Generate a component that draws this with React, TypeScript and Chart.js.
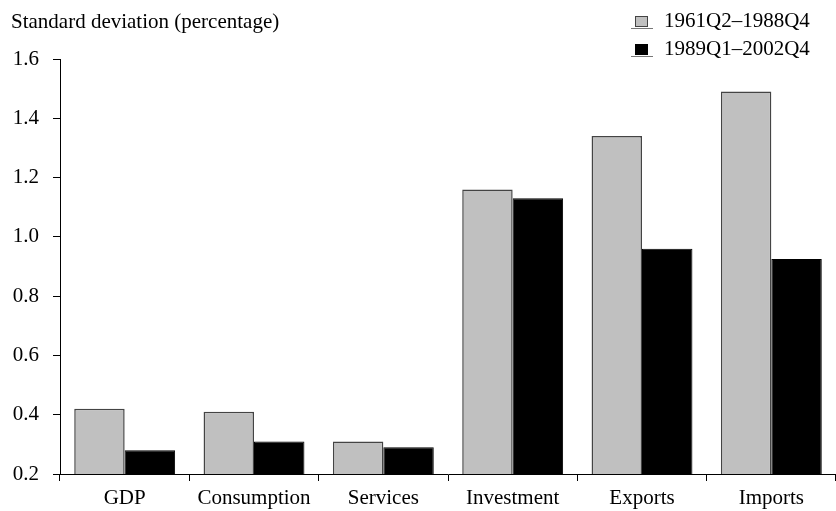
import React, { useEffect, useRef } from "react";
import { Chart, registerables } from "chart.js";

Chart.register(...registerables);

const categories = ["GDP", "Consumption", "Services", "Investment", "Exports", "Imports"];
const seriesLabels = ["1961Q2–1988Q4", "1989Q1–2002Q4"];
const early = [0.42, 0.41, 0.31, 1.16, 1.34, 1.49];
const late = [0.28, 0.31, 0.29, 1.13, 0.96, 0.925];
const axisTitle = "Standard deviation (percentage)";

const FONT = "'Liberation Serif', 'Times New Roman', serif";
const GRAY = "#c0c0c0";

const overlayPlugin = {
  id: "overlay",
  afterDraw(chart: any) {
    const ctx = chart.ctx as CanvasRenderingContext2D;
    ctx.save();
    ctx.fillStyle = "#000";
    ctx.font = `21px ${FONT}`;
    ctx.textBaseline = "middle";
    ctx.textAlign = "left";
    ctx.fillText(axisTitle, 11, 22);
    const fills = [GRAY, "#000"];
    const strokes = ["#444", "#000"];
    seriesLabels.forEach((lab, i) => {
      const y = 21 + i * 28;
      ctx.fillStyle = fills[i];
      ctx.fillRect(635, y - 5, 13, 11);
      ctx.strokeStyle = strokes[i];
      ctx.lineWidth = 1;
      ctx.strokeRect(635.5, y - 4.5, 12, 10);
      ctx.strokeStyle = "#777";
      ctx.beginPath();
      ctx.moveTo(631, y + 7.5);
      ctx.lineTo(653, y + 7.5);
      ctx.stroke();
      ctx.fillStyle = "#000";
      ctx.fillText(lab, 664, y);
    });
    ctx.restore();
  },
};

export default function App() {
  const ref = useRef<HTMLCanvasElement>(null);
  useEffect(() => {
    document.body.style.margin = "0";
    const chart = new Chart(ref.current!, {
      type: "bar",
      data: {
        labels: categories,
        datasets: [
          {
            label: seriesLabels[0],
            data: early,
            backgroundColor: GRAY,
            borderColor: "#444",
            borderWidth: 1.5,
          },
          {
            label: seriesLabels[1],
            data: late,
            backgroundColor: "#000",
            borderColor: "#000",
            borderWidth: 1,
          },
        ],
      },
      options: {
        animation: false,
        responsive: false,
        layout: { padding: { top: 59, right: 0, left: 0, bottom: 0 } },
        plugins: { legend: { display: false }, title: { display: false }, tooltip: { enabled: false } },
        datasets: { bar: { categoryPercentage: 0.78, barPercentage: 1 } },
        scales: {
          x: {
            grid: { display: true, drawOnChartArea: false, drawTicks: true, tickLength: 7, color: "#000", offset: true },
            border: { display: true, color: "#000", width: 1 },
            ticks: { color: "#000", font: { family: FONT, size: 21 }, padding: 5, maxRotation: 0 },
            afterFit: (s: any) => { s.height = 37; },
          },
          y: {
            min: 0.2,
            max: 1.6,
            grid: { display: true, drawOnChartArea: false, drawTicks: true, tickLength: 7, color: "#000" },
            border: { display: true, color: "#000", width: 1 },
            ticks: {
              stepSize: 0.2,
              color: "#000",
              font: { family: FONT, size: 21 },
              padding: 14,
              callback: (v: any) => Number(v).toFixed(1),
            },
            afterFit: (s: any) => { s.width = 60; },
          },
        },
      },
      plugins: [overlayPlugin],
    });
    return () => chart.destroy();
  }, []);
  return (
    <div style={{ width: 836, height: 511 }}>
      <canvas ref={ref} width={836} height={511} style={{ width: 836, height: 511, display: "block" }} />
    </div>
  );
}
